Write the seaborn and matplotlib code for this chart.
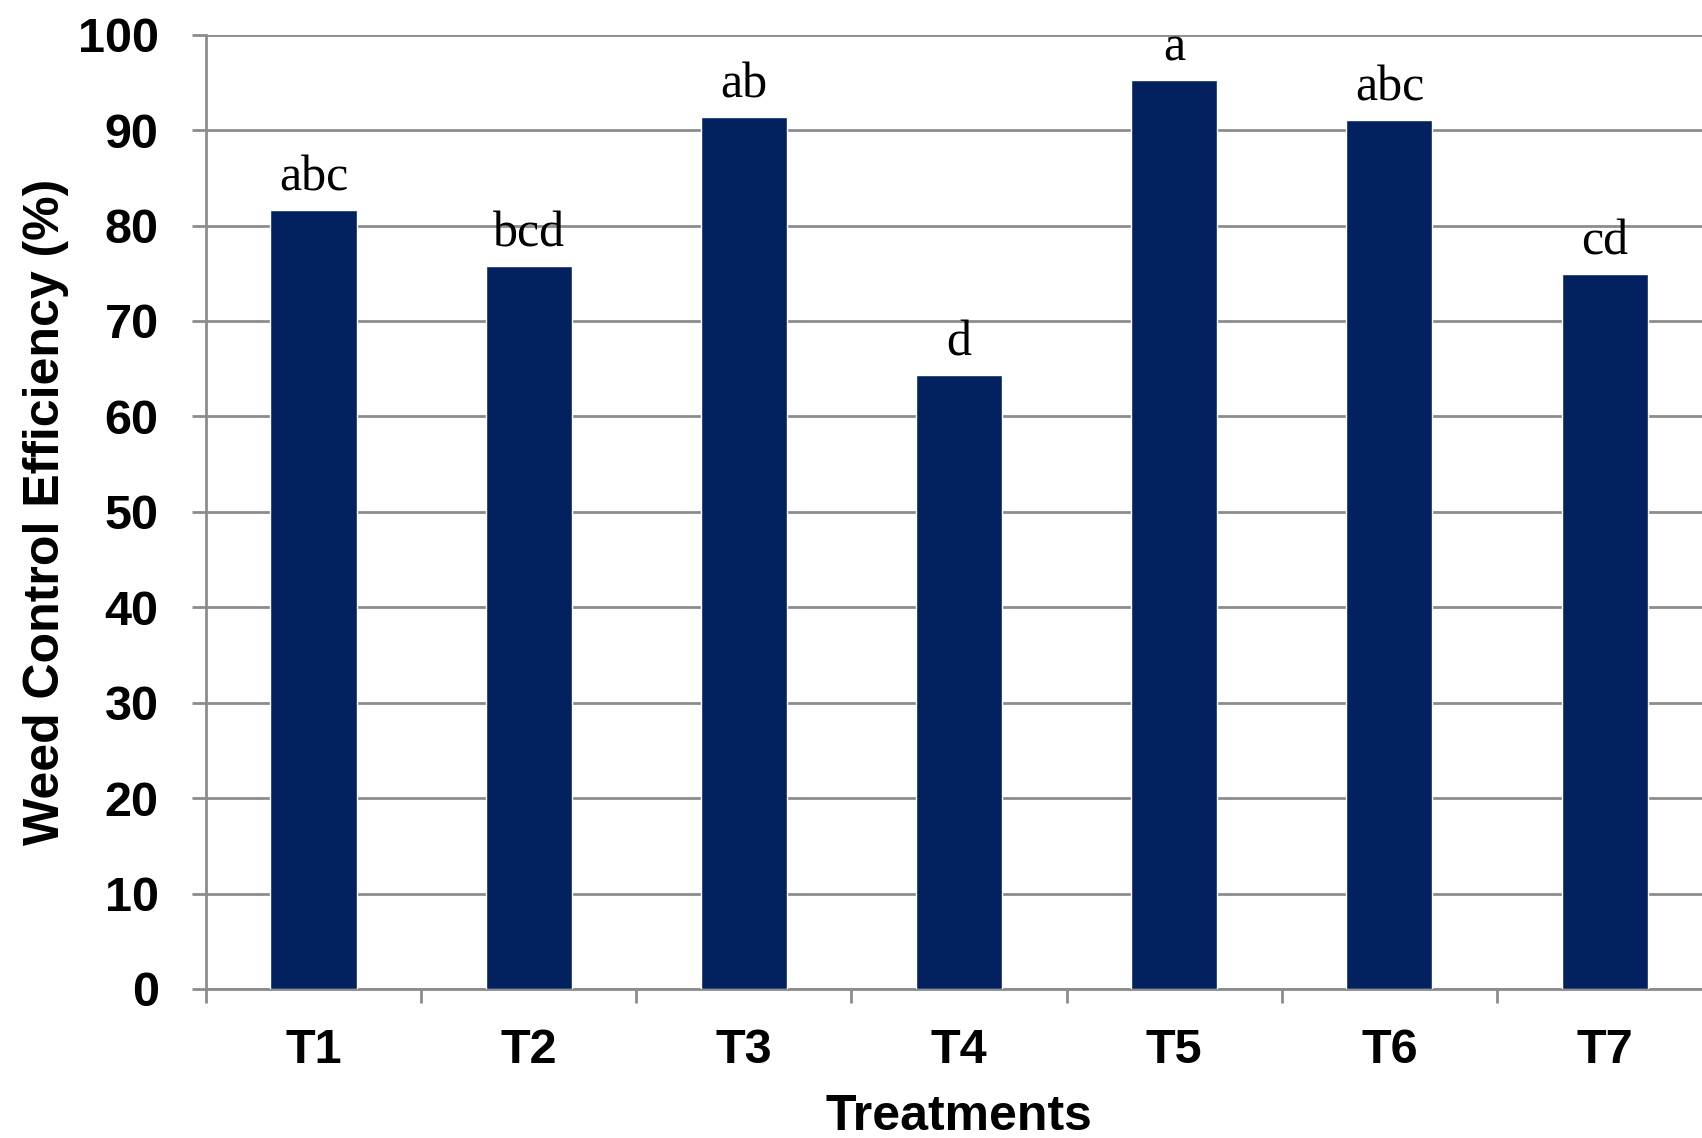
#!/usr/bin/env python3
"""Bar chart of weed control efficiency per treatment with significance letters."""

import matplotlib.pyplot as plt
import pandas as pd
import seaborn as sns

treatments = ["T1", "T2", "T3", "T4", "T5", "T6", "T7"]
efficiency = [81.6, 75.8, 91.4, 64.3, 95.3, 91.1, 74.9]
letters = ["abc", "bcd", "ab", "d", "a", "abc", "cd"]
y_ticks = [0, 10, 20, 30, 40, 50, 60, 70, 80, 90, 100]

BAR_COLOR = "#03215F"
GRID_COLOR = "#8c8c8c"


def main() -> None:
    df = pd.DataFrame({"treatment": treatments, "wce": efficiency})

    sns.set_style("white")
    plt.rcParams["font.family"] = ["Liberation Sans", "DejaVu Sans"]
    plt.rcParams["text.color"] = "black"
    plt.rcParams["axes.labelcolor"] = "black"
    plt.rcParams["xtick.color"] = "black"
    plt.rcParams["ytick.color"] = "black"

    fig = plt.figure(figsize=(17.02, 11.38), dpi=100)
    ax = fig.add_axes([0.121, 0.131, 0.885, 0.8385])

    sns.barplot(data=df, x="treatment", y="wce", color=BAR_COLOR,
                width=0.40, saturation=1, ax=ax, zorder=3)

    for i, (val, lab) in enumerate(zip(efficiency, letters)):
        ax.annotate(lab, (i, val), xytext=(0, 14), textcoords="offset points",
                    ha="center", va="baseline", fontsize=36, color="black",
                    family=["Liberation Serif", "DejaVu Serif"])

    ax.set_ylim(0, 100)
    ax.set_xlim(-0.5, len(treatments) - 0.5)
    ax.set_yticks(y_ticks)
    ax.yaxis.grid(True, color=GRID_COLOR, linewidth=2, zorder=0)
    ax.set_axisbelow(True)

    # category ticks sit on the boundaries between bars
    ax.set_xticks([i - 0.5 for i in range(len(treatments) + 1)], minor=True)
    ax.tick_params(axis="x", which="minor", bottom=True, length=10, width=2,
                   color=GRID_COLOR, direction="out")
    ax.tick_params(axis="x", which="major", bottom=True, length=0, pad=28, labelsize=35)
    ax.tick_params(axis="y", left=True, length=10, width=2, color=GRID_COLOR,
                   direction="out", pad=24, labelsize=35)
    for lab in ax.get_xticklabels() + ax.get_yticklabels():
        lab.set_fontweight("bold")

    for side in ("top", "right"):
        ax.spines[side].set_visible(False)
    for side in ("left", "bottom"):
        ax.spines[side].set_color(GRID_COLOR)
        ax.spines[side].set_linewidth(2)

    ax.set_xlabel("Treatments", fontsize=36, fontweight="bold", labelpad=15)
    ax.set_ylabel("Weed Control Efficiency (%)", fontsize=36, fontweight="bold", labelpad=6)

    fig.savefig("out.png", dpi=100)
    plt.close(fig)


if __name__ == "__main__":
    main()
